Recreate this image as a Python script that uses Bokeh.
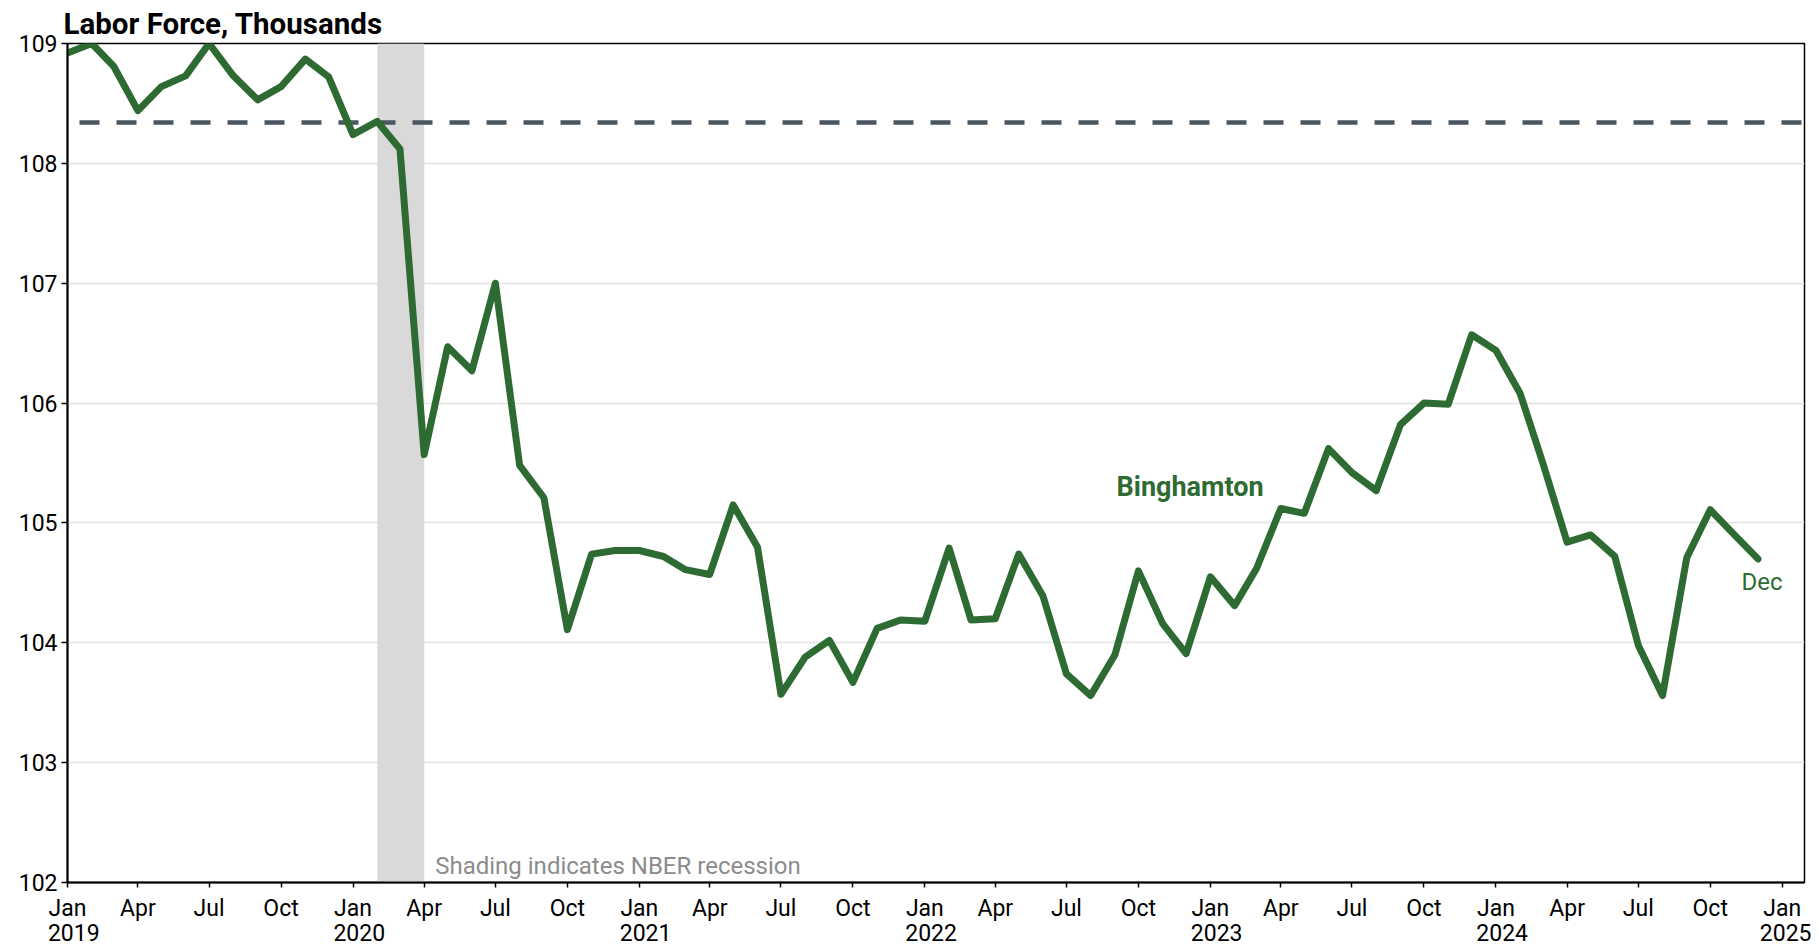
from datetime import datetime
import pandas as pd
from bokeh.plotting import figure
from bokeh.models import BoxAnnotation, Span, Label, FixedTicker, Range1d, DatetimeAxis
from bokeh.embed import file_html
from bokeh.resources import INLINE

# ---- data ----
months = pd.date_range("2019-01-01", "2024-12-01", freq="MS")
labor_force = [
    108.92, 109.00, 108.81, 108.44, 108.64, 108.73, 109.00, 108.73, 108.53, 108.64, 108.87, 108.72,  # 2019
    108.24, 108.35, 108.12, 105.57, 106.47, 106.27, 107.00, 105.48, 105.21, 104.11, 104.74, 104.77,  # 2020
    104.77, 104.72, 104.61, 104.57, 105.15, 104.80, 103.57, 103.88, 104.02, 103.67, 104.12, 104.19,  # 2021
    104.18, 104.79, 104.19, 104.20, 104.74, 104.39, 103.74, 103.56, 103.90, 104.60, 104.16, 103.91,  # 2022
    104.55, 104.31, 104.62, 105.12, 105.08, 105.62, 105.42, 105.27, 105.82, 106.00, 105.99, 106.57,  # 2023
    106.44, 106.08, 105.50, 104.84, 104.90, 104.72, 103.98, 103.56, 104.71, 105.11, 104.90, 104.70,  # 2024
]
pre_recession_level = 108.34
recession_start = datetime(2020, 2, 1)
recession_end = datetime(2020, 4, 1)

y_ticks = [102, 103, 104, 105, 106, 107, 108, 109]
tick_dates = pd.date_range("2019-01-01", "2025-01-01", freq="QS")
month_labels = ["Jan", "Apr", "Jul", "Oct"] * 6 + ["Jan"]
year_dates = pd.date_range("2019-01-01", "2025-01-01", freq="YS")
year_labels = ["2019", "2020", "2021", "2022", "2023", "2024", "2025"]
series_name = "Binghamton"
last_label = "Dec"

# ---- style ----
GREEN = "#2e6b33"
FONT = "Roboto"

p = figure(
    x_axis_type="datetime",
    x_range=Range1d(start=datetime(2019, 1, 1), end=datetime(2025, 1, 29, 12)),
    y_range=Range1d(start=102, end=109),
    frame_width=1737, frame_height=839,
    min_border_left=67, min_border_right=7, min_border_top=43, min_border_bottom=66,
    output_backend="svg", toolbar_location=None,
    title="Labor Force, Thousands",
)
p.background_fill_color = "white"
p.border_fill_color = "white"
p.outline_line_color = "black"
p.outline_line_width = 1.5

p.title.text_font = FONT
p.title.text_font_size = "29.5px"
p.title.text_font_style = "bold"
p.title.text_color = "black"
p.title.align = "left"
p.title.offset = -4
p.title.vertical_align = "top"
p.title.standoff = 1

# grid
p.xgrid.visible = False
p.ygrid.ticker = FixedTicker(ticks=y_ticks)
p.ygrid.grid_line_color = "#e3e3e3"
p.ygrid.grid_line_width = 1.5
p.ygrid.level = "image"

# axes
p.yaxis.ticker = FixedTicker(ticks=y_ticks)
tick_ms = [float(d.value // 10**6) for d in tick_dates]
p.xaxis.ticker = FixedTicker(ticks=tick_ms)
p.xaxis.major_label_overrides = {t: lab for t, lab in zip(tick_ms, month_labels)}

# year row: a second, line-less axis under the month labels
year_shift = pd.Timedelta(days=8)  # visual nudge so years line up left with "Jan"
year_ms = [float((d + year_shift).value // 10**6) for d in year_dates]
year_axis = DatetimeAxis(ticker=FixedTicker(ticks=year_ms),
                         major_label_overrides={t: lab for t, lab in zip(year_ms, year_labels)})
year_axis.axis_line_color = None
year_axis.major_tick_out = 0
year_axis.major_tick_in = 0
year_axis.minor_tick_out = 0
year_axis.minor_tick_in = 0
year_axis.major_label_standoff = -1
p.add_layout(year_axis, "below")

for ax in (p.xaxis[0], p.yaxis[0], year_axis):
    ax.major_label_text_font = FONT
    ax.major_label_text_font_size = "23px"
    ax.major_label_text_color = "black"
for ax in (p.xaxis[0], p.yaxis[0]):
    ax.axis_line_color = "black"
    ax.axis_line_width = 2
    ax.major_tick_line_color = "black"
    ax.major_tick_line_width = 1.5
    ax.major_tick_in = 0
    ax.minor_tick_out = 0
    ax.minor_tick_in = 0
p.yaxis.major_tick_out = 6
p.yaxis.major_label_standoff = 4
p.xaxis[0].major_tick_out = 5
p.xaxis[0].major_label_standoff = 7

# recession shading
box = BoxAnnotation(left=recession_start, right=recession_end,
                    fill_color="#d9d9d9", fill_alpha=1.0, line_alpha=0, level="underlay")
p.add_layout(box)

# pre-recession level
span = Span(location=pre_recession_level, dimension="width", line_color="#4a5660",
            line_width=4.5, line_dash="20 17", line_dash_offset=25, level="underlay")
p.add_layout(span)

# series
p.line(months, labor_force, line_color=GREEN, line_width=7, line_join="round", line_cap="round")

p.add_layout(Label(x=recession_end, y=102, x_offset=11, y_offset=17,
                   text="Shading indicates NBER recession", text_color="#8c8c8c",
                   text_font=FONT, text_font_size="24px", text_baseline="alphabetic"))
p.add_layout(Label(x=datetime(2022, 9, 3), y=105.30, text=series_name,
                   text_color=GREEN, text_font=FONT, text_font_size="27px",
                   text_font_style="bold", text_baseline="alphabetic"))
p.add_layout(Label(x=months[-1], y=labor_force[-1], x_offset=4, y_offset=-23,
                   text=last_label, text_color=GREEN, text_font=FONT,
                   text_font_size="24px", text_align="center", text_baseline="alphabetic"))

open("out.html", "w").write(file_html(p, INLINE))
